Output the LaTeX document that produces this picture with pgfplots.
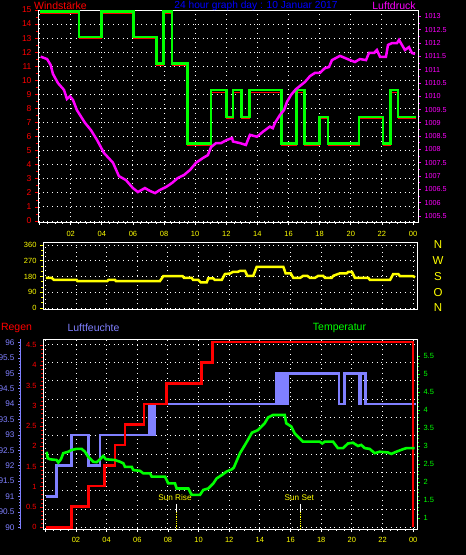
\documentclass[border=0pt]{standalone}
\usepackage{pgfplots}
\pgfplotsset{compat=1.18}
\usepackage{fontspec}
\setmainfont{Liberation Sans}
\definecolor{hum}{RGB}{128,128,255}
\definecolor{grn}{RGB}{0,255,0}
\definecolor{mag}{RGB}{255,0,255}
\definecolor{yel}{RGB}{255,255,0}
\definecolor{ttl}{RGB}{0,0,255}
\pgfplotsset{
  base/.style={scale only axis, anchor=south west, tick align=outside,
    major tick length=3pt, minor tick length=1.8pt},
  gridbox/.style={axis lines=box, axis line style={white, line width=0.9pt},
    major tick length=0pt, xticklabels={}, yticklabels={}, grid=major,
    major grid style={white, line width=0.9pt, dash pattern=on 0.9pt off 3.8pt}},
  toppos/.style={at={(38pt,333pt)}, width=380pt, height=212pt, xmin=-0.1, xmax=24.32},
  midpos/.style={at={(43pt,246pt)}, width=374pt, height=67pt, xmin=-0.15, xmax=24.25},
  botpos/.style={at={(43pt,26pt)}, width=374pt, height=190pt, xmin=-0.15, xmax=24.25},
}
\begin{document}
\begin{tikzpicture}
\useasboundingbox (0,0) rectangle (466pt,555pt);
\fill[black] (0,0) rectangle (466pt,555pt);

% ================= TOP PANEL =================
\begin{axis}[base, gridbox, toppos, ymin=-0.07, ymax=15,
  xtick={0,2,...,24}, ytick={0,...,14}]
\end{axis}
\begin{axis}[base, toppos, ymin=-0.07, ymax=15,
  axis x line*=bottom, axis y line=none, axis line style={white, line width=0.9pt},
  xtick={0,2,...,24}, xticklabels={,02,04,06,08,10,12,14,16,18,20,22,00},
  minor x tick num=3, tick style={white, line width=0.8pt}, ytick=\empty,
  xticklabel style={text=yel, yshift=-3pt, font=\fontsize{7.5}{8}\selectfont}]
\end{axis}
\begin{axis}[base, toppos, ymin=-0.07, ymax=15,
  axis y line*=left, axis x line=none, axis line style={white, line width=0.9pt},
  xtick=\empty, ytick={0,...,15},
  yticklabels={0,1,2,3,4,5,6,7,8,9,10,11,12,13,14,15},
  minor y tick num=1, tick style={red, line width=0.8pt},
  yticklabel style={text=red, font=\fontsize{8.5}{9}\selectfont}]
\addplot[red, line width=0.8pt, const plot] coordinates {
(0,14.74) (2.53,12.95) (3.99,14.74) (6.02,12.95) (7.53,11.05) (7.95,14.74)
(8.51,11.05) (9.52,5.37) (11.02,9.17) (12.02,7.27) (12.43,9.17) (12.96,7.27)
(13.5,9.17) (15.53,5.37) (16.5,9.17) (17.04,5.37) (18.0,7.27) (18.53,5.37)
(20.53,7.27) (22.07,5.37) (22.54,9.17) (23.03,7.27) (24.17,7.27)};
\addplot[grn, line width=2.6pt, const plot] coordinates {
(0,14.88) (2.53,13.08) (3.99,14.88) (6.02,13.08) (7.53,11.18) (7.95,14.88)
(8.51,11.18) (9.52,5.5) (11.02,9.3) (12.02,7.4) (12.43,9.3) (12.96,7.4)
(13.5,9.3) (15.53,5.5) (16.5,9.3) (17.04,5.5) (18.0,7.4) (18.53,5.5)
(20.53,7.4) (22.07,5.5) (22.54,9.3) (23.03,7.4) (24.17,7.4)};
\end{axis}
\begin{axis}[base, toppos, ymin=1005.274, ymax=1013.244,
  axis y line*=right, axis x line=none, axis line style={white, line width=0.9pt},
  xtick=\empty,
  ytick={1005.5,1006,1006.5,1007,1007.5,1008,1008.5,1009,1009.5,1010,1010.5,1011,1011.5,1012,1012.5,1013},
  yticklabels={1005.5,1006,1006.5,1007,1007.5,1008,1008.5,1009,1009.5,1010,1010.5,1011,1011.5,1012,1012.5,1013},
  minor y tick num=1, tick style={mag, line width=0.8pt},
  yticklabel style={text=mag, font=\fontsize{7.2}{8}\selectfont}]
\addplot[mag, line width=2.5pt] coordinates {
(0.07,1011.49) (0.48,1011.4) (0.71,1011.18) (0.86,1010.84) (1.18,1010.5)
(1.57,1010.24) (1.76,1009.9) (1.95,1010.0) (2.15,1009.86) (2.4,1009.48)
(2.92,1009.0) (3.3,1008.73) (3.69,1008.36) (4.14,1007.87) (4.72,1007.5)
(5.1,1007.0) (5.55,1006.85) (6.0,1006.55) (6.32,1006.4) (6.77,1006.55)
(7.1,1006.44) (7.42,1006.36) (7.74,1006.48) (8.13,1006.59) (8.51,1006.74)
(8.89,1006.93) (9.28,1007.04) (9.67,1007.23) (10.05,1007.5) (10.5,1007.68)
(10.82,1007.79) (11.02,1008.09) (11.34,1008.24) (11.66,1008.24) (12.04,1008.36)
(12.37,1008.43) (12.43,1008.3) (12.88,1008.24) (13.26,1008.17) (13.52,1008.55)
(13.97,1008.48) (14.36,1008.67) (14.8,1008.86) (14.99,1008.8) (15.13,1009.0)
(15.45,1009.3) (15.71,1009.48) (15.9,1009.79) (16.16,1010.05) (16.48,1010.27)
(16.8,1010.42) (17.06,1010.54) (17.38,1010.76) (17.7,1010.88) (18.02,1010.88)
(18.34,1011.06) (18.6,1011.1) (18.79,1011.36) (19.18,1011.48) (19.3,1011.52)
(19.63,1011.44) (19.95,1011.36) (20.27,1011.29) (20.59,1011.4) (20.98,1011.36)
(21.17,1011.63) (21.5,1011.63) (21.68,1011.74) (21.88,1011.48) (22.26,1011.48)
(22.39,1011.93) (22.65,1012.0) (22.97,1012.0) (23.1,1012.12) (23.29,1011.93)
(23.48,1011.74) (23.74,1011.85) (23.93,1011.63) (24.13,1011.59)};
\end{axis}

% ================= MIDDLE PANEL =================
\begin{axis}[base, gridbox, midpos, ymin=-5.7, ymax=377,
  xtick={0,2,...,24}, ytick={0,90,180,270,360}]
\end{axis}
\begin{axis}[base, midpos, ymin=-5.7, ymax=377,
  axis y line*=left, axis x line=none, axis line style={white, line width=0.9pt},
  xtick=\empty, ytick={0,90,180,270,360}, yticklabels={0,90,180,270,360},
  minor y tick num=2, tick style={yel, line width=0.8pt},
  yticklabel style={text=yel, font=\fontsize{7.5}{8}\selectfont}]
\addplot[yel, line width=2.5pt] coordinates {
(0.03,172) (0.42,172) (0.57,160) (2.05,160) (2.09,154) (4.04,154) (4.11,160)
(4.55,160) (4.61,154) (7.48,154) (7.7,182) (8.96,182) (9.05,172) (9.55,172)
(9.65,160) (9.98,160) (10.14,146) (10.53,146) (10.63,169) (10.96,169)
(11.07,160) (11.51,160) (11.72,194) (12.05,197) (12.26,207) (12.57,207)
(12.7,212) (13.03,212) (13.18,184) (13.57,184) (13.79,235) (15.53,235)
(15.68,198) (16.01,198) (16.18,172) (16.62,172) (16.83,184) (17.09,184)
(17.27,172) (17.59,172) (17.81,184) (18.12,184) (18.25,172) (18.68,172)
(18.79,184) (19.22,198) (19.66,198) (19.77,207) (20.0,207) (20.2,172)
(21.07,172) (21.18,160) (22.49,160) (22.7,194) (23.03,194) (23.14,182)
(24.0,182) (24.12,175)};
\end{axis}
\begin{axis}[base, midpos, ymin=-5.7, ymax=377,
  axis y line*=right, axis x line=none, axis line style={white, line width=0.9pt},
  xtick=\empty, ytick={0,90,180,270,360}, yticklabels={N,O,S,W,N},
  major tick length=0pt,
  yticklabel style={text=yel, anchor=center, xshift=21pt, font=\fontsize{11.5}{12}\selectfont}]
\end{axis}

% ================= BOTTOM PANEL =================
\begin{axis}[base, gridbox, botpos, ymin=-0.093, ymax=10.29,
  xtick={0,2,...,24}, ytick={0,...,10}]
\end{axis}
\begin{axis}[base, botpos, ymin=-0.093, ymax=10.29,
  axis x line*=bottom, axis y line=none, axis line style={white, line width=0.9pt},
  xtick={0,2,...,24}, xticklabels={,02,04,06,08,10,12,14,16,18,20,22,00},
  minor x tick num=3, tick style={white, line width=0.8pt}, ytick=\empty,
  xticklabel style={text=yel, yshift=-1.5pt, font=\fontsize{7.5}{8}\selectfont}]
\end{axis}
% humidity scale
\begin{axis}[base, at={(21pt,26pt)}, width=1pt, height=190pt, xmin=0, xmax=1,
  ymin=89.945, ymax=96.114,
  axis y line*=left, axis x line=none, axis line style={hum, line width=1pt},
  xtick=\empty, ytick={90,90.5,91,91.5,92,92.5,93,93.5,94,94.5,95,95.5,96},
  yticklabels={90,90.5,91,91.5,92,92.5,93,93.5,94,94.5,95,95.5,96},
  minor y tick num=4, tick style={hum, line width=0.8pt},
  yticklabel style={text=hum, font=\fontsize{8.2}{9}\selectfont}]
\end{axis}
% humidity data
\begin{axis}[base, botpos, ymin=89.945, ymax=96.114, hide axis]
\addplot[hum, line width=2.6pt, const plot] coordinates {
(0.05,91) (0.75,92) (1.72,93) (2.8,92) (3.57,93) (6.78,94) (6.84,93) (6.9,94)
(6.96,93) (7.02,94) (7.08,93) (7.14,94) (15.05,95) (15.11,94) (15.17,95)
(15.23,94) (15.29,95) (15.33,94) (15.48,95) (15.54,94) (15.6,95) (15.66,94)
(15.72,95) (15.78,94) (15.84,95) (19.16,94) (19.53,95) (20.46,94) (20.55,95)
(20.9,94) (24.16,94)};
\end{axis}
% rain
\begin{axis}[base, botpos, ymin=-0.042, ymax=4.649,
  axis y line*=left, axis x line=none, axis line style={white, line width=0.9pt},
  xtick=\empty, ytick={0,0.5,1,1.5,2,2.5,3,3.5,4,4.5},
  yticklabels={0,0.5,1,1.5,2,2.5,3,3.5,4,4.5},
  minor y tick num=4, tick style={red, line width=0.8pt},
  yticklabel style={text=red, font=\fontsize{7.5}{8}\selectfont}]
\addplot[red, line width=2.6pt, const plot] coordinates {
(0.05,0) (1.72,0.508) (2.8,1.016) (3.85,1.524) (4.55,2.032) (5.2,2.54)
(6.44,3.048) (7.92,3.556) (10.2,4.064) (10.92,4.572) (24.0,0)};
\end{axis}
% temperature
\begin{axis}[base, botpos, ymin=0.694, ymax=5.972,
  axis y line*=right, axis x line=none, axis line style={white, line width=0.9pt},
  xtick=\empty, ytick={1,1.5,2,2.5,3,3.5,4,4.5,5,5.5},
  yticklabels={1,1.5,2,2.5,3,3.5,4,4.5,5,5.5},
  minor y tick num=4, tick style={grn, line width=0.8pt},
  yticklabel style={text=grn, font=\fontsize{7.5}{8}\selectfont}]
\addplot[grn, line width=2.6pt] coordinates {
(0.09,2.84) (0.16,2.66) (0.31,2.63) (0.74,2.61) (0.85,2.54) (1.02,2.63)
(1.17,2.8) (1.5,2.84) (1.72,2.89) (2.05,2.92) (2.37,2.92) (2.59,2.84)
(2.8,2.7) (3.13,2.56) (3.35,2.55) (3.57,2.63) (3.78,2.72) (3.96,2.63)
(4.55,2.61) (4.88,2.56) (5.09,2.52) (5.2,2.42) (5.64,2.42) (5.74,2.33)
(6.18,2.31) (6.39,2.24) (6.83,2.24) (6.94,2.15) (7.81,2.15) (8.02,1.96)
(8.46,1.96) (8.57,1.82) (9.33,1.82) (9.55,1.64) (10.09,1.64) (10.31,1.78)
(10.63,1.82) (10.96,1.96) (11.18,2.1) (11.51,2.19) (11.83,2.29) (12.16,2.35)
(12.3,2.4) (12.46,2.56) (12.7,2.8) (12.9,2.94) (13.22,3.17) (13.48,3.37)
(13.87,3.44) (14.31,3.63) (14.53,3.79) (14.85,3.86) (15.62,3.86) (15.72,3.63)
(16.05,3.54) (16.27,3.35) (16.6,3.21) (16.81,3.12) (17.9,3.12) (18.07,3.07)
(18.23,3.12) (18.77,3.12) (19.09,2.94) (19.42,2.94) (19.75,3.07) (20.07,3.09)
(20.4,3.0) (20.61,3.03) (20.84,2.94) (21.16,2.92) (21.49,2.8) (21.81,2.84)
(22.35,2.82) (22.57,2.78) (22.9,2.84) (23.33,2.91) (23.55,2.94) (24.1,2.94)};
\draw[white, line width=0.9pt] (axis cs:8.53,1.389) -- (axis cs:8.53,1.167);
\draw[yel, line width=0.9pt, dash pattern=on 0.9pt off 0.9pt] (axis cs:8.53,1.167) -- (axis cs:8.53,0.694);
\draw[white, line width=0.9pt] (axis cs:16.66,1.389) -- (axis cs:16.66,1.167);
\draw[yel, line width=0.9pt, dash pattern=on 0.9pt off 0.9pt] (axis cs:16.66,1.167) -- (axis cs:16.66,0.694);
\node[text=yel, font=\fontsize{8.2}{9}\selectfont] at (axis cs:8.46,1.556) {Sun Rise};
\node[text=yel, font=\fontsize{8.2}{9}\selectfont] at (axis cs:16.57,1.556) {Sun Set};
\end{axis}

% ================= HEADINGS =================
\node[anchor=west, text=red, font=\fontsize{10.5}{12}\selectfont, inner sep=0pt] at (34pt,549pt) {Windstärke};
\node[text=ttl, font=\fontsize{10.2}{12}\selectfont, inner sep=0pt] at (256pt,549pt) {24 hour graph day : 10 Januar 2017};
\node[text=mag, font=\fontsize{10.5}{12}\selectfont, inner sep=0pt] at (394pt,549pt) {Luftdruck};
\node[text=red, font=\fontsize{10.5}{12}\selectfont, inner sep=0pt] at (16.5pt,227.5pt) {Regen};
\node[text=hum, font=\fontsize{10.5}{12}\selectfont, inner sep=0pt] at (93.5pt,227.5pt) {Luftfeuchte};
\node[text=grn, font=\fontsize{10.5}{12}\selectfont, inner sep=0pt] at (339.5pt,227.5pt) {Temperatur};
\end{tikzpicture}
\end{document}
